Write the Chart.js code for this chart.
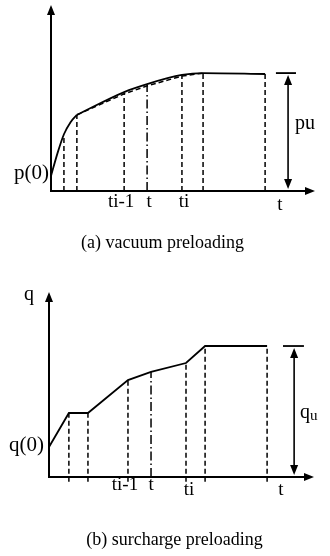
<!DOCTYPE html>
<html><head><meta charset="utf-8">
<script src="https://cdn.jsdelivr.net/npm/chart.js@4"></script>
<style>
html,body{margin:0;padding:0;background:#fff;width:330px;height:556px;overflow:hidden;}
canvas{position:absolute;left:0;}
#a{top:0;}
#b{top:270px;}
</style></head><body>
<canvas id="a" width="330" height="260"></canvas>
<canvas id="b" width="330" height="286"></canvas>
<script>
// ---- (a) vacuum preloading : time (0-100), pressure (0-100) ----
const aEarlyT = [0, 2.5, 4.9, 7.4, 9.8];
const aEarlyP = [8.1, 20.5, 30.5, 37.0, 40.9];
const aCurveT = [9.8, 27.7, 36.4, 49.6, 57.6, 81.1];
const aCurveP = [40.9, 53.2, 57.5, 62.4, 63.4, 62.9];
const aChordT = [9.8, 27.7, 36.4, 49.6, 57.6];
const aChordP = [40.9, 52.2, 56.5, 61.8, 63.4];
const aDashT = [4.9, 9.8, 27.7, 49.6, 57.6, 81.1];
const aDashP = [29.0, 40.9, 52.7, 62.4, 63.4, 62.9];
const aDotT = [36.4];
const aDotP = [57.0];
const aPu = 63.4;          // pu level
const aPuT = [85.2, 92.8]; // pu marker extent
const aPuArrowT = 89.8;

// ---- (b) surcharge preloading ----
const bT = [0, 7.5, 14.7, 29.8, 38.5, 51.7, 58.9, 82.3];
const bQ = [16.2, 34.6, 34.6, 52.4, 56.8, 61.6, 70.8, 70.8];
const bDashT = [7.5, 14.7, 29.8, 51.7, 58.9, 82.3];
const bDashQ = [34.6, 34.6, 52.4, 61.6, 70.8, 70.8];
const bDotT = [38.5];
const bDotQ = [56.8];
const bQu = 70.8;
const bQuT = [88.3, 96.2];
const bQuArrowT = 92.5;

const labelsA = ["p(0)", "ti-1", "t", "ti", "t", "pu"];
const labelsB = ["q", "q(0)", "ti-1", "t", "ti", "t", "q", "u"];
const captionA = "(a) vacuum preloading";
const captionB = "(b) surcharge preloading";

const FONT = '"Liberation Serif", "Times New Roman", serif';

function pts(xs, ys){ return xs.map((x,i)=>({x:x, y:ys[i]})); }
function verticals(xs, tops, bottom){
  const out=[];
  xs.forEach((x,i)=>{ out.push({x:x,y:bottom}); out.push({x:x,y:tops[i]}); out.push({x:x,y:null}); });
  return out;
}
function line(data, opts){
  return Object.assign({data:data, showLine:true, borderColor:'#000', backgroundColor:'#000',
    borderWidth:1.8, pointRadius:0, fill:false, spanGaps:false, clip:false}, opts||{});
}
function head(ctx, x, y, dir){
  const L=10, H=4;
  ctx.beginPath();
  if(dir==='up'){ctx.moveTo(x,y);ctx.lineTo(x-H,y+L);ctx.lineTo(x+H,y+L);}
  else if(dir==='down'){ctx.moveTo(x,y);ctx.lineTo(x-H,y-L);ctx.lineTo(x+H,y-L);}
  else {ctx.moveTo(x,y);ctx.lineTo(x-L,y-H);ctx.lineTo(x-L,y+H);}
  ctx.closePath(); ctx.fill();
}
function txt(ctx, s, x, y, size, align){
  ctx.font = size+'px '+FONT; ctx.textAlign = align||'center'; ctx.textBaseline='alphabetic';
  ctx.fillText(s, x, y);
}

function decor(labelFn, level, mT, mArrowT){
  return {
    id:'decor',
    afterDatasetsDraw(chart){
      const ctx=chart.ctx, xs=chart.scales.x, ys=chart.scales.y;
      const x0=xs.getPixelForValue(0), y0=ys.getPixelForValue(0);
      const xE=xs.getPixelForValue(100), yE=ys.getPixelForValue(100);
      ctx.save();
      ctx.strokeStyle='#000'; ctx.fillStyle='#000'; ctx.lineWidth=2; ctx.setLineDash([]);
      ctx.beginPath(); ctx.moveTo(x0,yE+8); ctx.lineTo(x0,y0); ctx.lineTo(xE-8,y0); ctx.stroke();
      head(ctx,x0,yE,'up'); head(ctx,xE,y0,'right');
      // magnitude marker
      const ly=ys.getPixelForValue(level);
      ctx.lineWidth=1.8;
      ctx.beginPath(); ctx.moveTo(xs.getPixelForValue(mT[0]),ly); ctx.lineTo(xs.getPixelForValue(mT[1]),ly); ctx.stroke();
      const ax=xs.getPixelForValue(mArrowT);
      ctx.lineWidth=1.6;
      ctx.beginPath(); ctx.moveTo(ax,ly+8); ctx.lineTo(ax,y0-10); ctx.stroke();
      head(ctx,ax,ly+2,'up'); head(ctx,ax,y0-2,'down');
      labelFn(ctx,xs,ys,x0,y0);
      ctx.restore();
    }
  };
}

const common = (pad)=>({
  responsive:false, animation:false, devicePixelRatio:1,
  layout:{padding:pad},
  plugins:{legend:{display:false}, tooltip:{enabled:false}},
  scales:{x:{type:'linear',min:0,max:100,display:false}, y:{type:'linear',min:0,max:100,display:false}}
});

new Chart(document.getElementById('a'), {
  type:'scatter',
  data:{datasets:[
    line(pts(aEarlyT,aEarlyP),{cubicInterpolationMode:'monotone'}),
    line(pts(aCurveT,aCurveP),{cubicInterpolationMode:'monotone'}),
    line(pts(aChordT,aChordP),{borderDash:[5,3],borderWidth:1.5}),
    line(verticals(aDashT,aDashP,0),{borderDash:[5,3],borderWidth:1.5}),
    line(verticals(aDotT,aDotP,0),{borderDash:[9,3,1.5,3],borderWidth:1.5})
  ]},
  options:common({left:51,right:15,top:5,bottom:69}),
  plugins:[decor((ctx,xs,ys,x0,y0)=>{
    txt(ctx,labelsA[0],x0-2,ys.getPixelForValue(aEarlyP[0])+3,21,'right');
    txt(ctx,labelsA[1],xs.getPixelForValue(aDashT[2])-3,y0+16,19);
    txt(ctx,labelsA[2],xs.getPixelForValue(aDotT[0])+2,y0+16,19);
    txt(ctx,labelsA[3],xs.getPixelForValue(aDashT[3])+2,y0+16,19);
    txt(ctx,labelsA[4],280,y0+19,19);
    txt(ctx,labelsA[5],295,129,20,'left');
    txt(ctx,captionA,162.5,248,18);
  }, aPu, aPuT, aPuArrowT)]
});

new Chart(document.getElementById('b'), {
  type:'scatter',
  data:{datasets:[
    line(pts(bT,bQ),{tension:0}),
    line(verticals(bDashT,bDashQ,-2.5),{borderDash:[5,3],borderWidth:1.5}),
    line(verticals(bDotT,bDotQ,0),{borderDash:[9,3,1.5,3],borderWidth:1.5})
  ]},
  options:common({left:49,right:16,top:22,bottom:79}),
  plugins:[decor((ctx,xs,ys,x0,y0)=>{
    txt(ctx,labelsB[0],29,30,20);
    txt(ctx,labelsB[1],x0-5,ys.getPixelForValue(bQ[0])+4,21,'right');
    txt(ctx,labelsB[2],xs.getPixelForValue(bDashT[2])-3,y0+13,19);
    txt(ctx,labelsB[3],xs.getPixelForValue(bDotT[0]),y0+13,19);
    txt(ctx,labelsB[4],xs.getPixelForValue(bDashT[3])+3,y0+18,19);
    txt(ctx,labelsB[5],281,y0+18,19);
    txt(ctx,labelsB[6],300,148,20,'left');
    txt(ctx,labelsB[7],310,150,15,'left');
    txt(ctx,captionB,174.5,275,18);
  }, bQu, bQuT, bQuArrowT)]
});
</script>
</body></html>
